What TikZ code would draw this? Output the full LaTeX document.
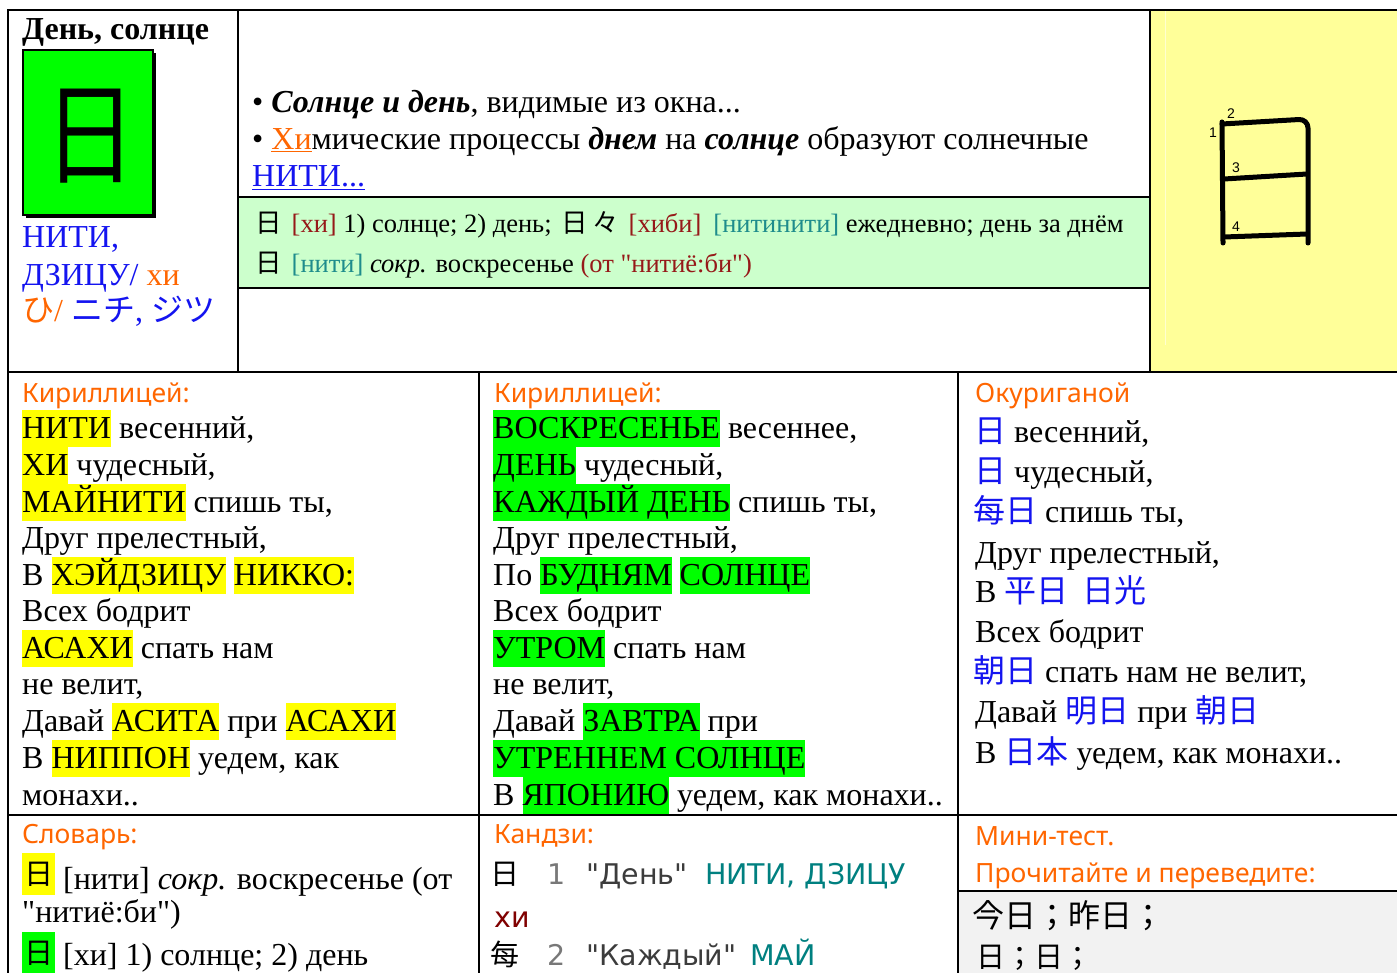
\documentclass[tikz,border=0pt]{standalone}
\usepackage{fontspec}
\setmainfont{Liberation Serif}[Ligatures=TeXOff]
\newfontfamily\jp{Noto Sans CJK JP}
\newfontfamily\hdf{Noto Sans}
\newfontfamily\tahf{DejaVu Sans}
\newfontfamily\arl{Liberation Sans}
\definecolor{orng}{RGB}{255,102,0}
\definecolor{blu}{RGB}{20,20,240}
\definecolor{hlY}{RGB}{255,255,0}
\definecolor{hlG}{RGB}{0,255,0}
\definecolor{bandc}{RGB}{204,255,204}
\definecolor{pale}{RGB}{255,255,153}
\definecolor{gry}{RGB}{242,242,242}
\definecolor{drd}{RGB}{150,25,25}
\definecolor{tl}{RGB}{30,140,140}
\definecolor{kteal}{RGB}{0,128,128}
\definecolor{kred}{RGB}{128,0,0}
\definecolor{kg1}{RGB}{120,120,120}
\definecolor{kg2}{RGB}{60,60,60}
\newcommand\HL[2]{{\setlength{\fboxsep}{0pt}\colorbox{#1}{\rule[-9pt]{0pt}{37pt}#2}}}
\begin{document}
\begin{tikzpicture}[x=1pt,y=-1pt,
  txt/.style={anchor=base west, inner sep=0pt, font=\fontsize{32}{37}\selectfont},
  bandtxt/.style={anchor=base west, inner sep=0pt, font=\fontsize{26.5}{30}\selectfont},
  head/.style={anchor=base west, inner sep=0pt, text=orng, font=\hdf\fontsize{26.5}{30}\selectfont},
  tah/.style={anchor=base west, inner sep=0pt, font=\tahf\fontsize{28.5}{32}\selectfont},
  gridline/.style={line width=2.5pt, line cap=rect},
  stroke/.style={line width=5pt, line cap=round, line join=round},
  num/.style={inner sep=0pt, font=\arl\fontsize{14}{14}\selectfont}]
\useasboundingbox (0,0) rectangle (1397,973);
% fills
\fill[white] (0,0) rectangle (1397,973);
\fill[pale] (1150,10) rectangle (1397,372);
\draw[line width=1pt, white!55!pale] (1165,10) -- (1165,345);
\fill[bandc] (238,197) rectangle (1150,288);
\fill[gry] (958,891) rectangle (1397,973);
% grid
\draw[gridline] (8,10) -- (1397,10);
\draw[gridline] (8,10) -- (8,973);
\draw[gridline] (238,10) -- (238,372);
\draw[gridline] (1150,10) -- (1150,372);
\draw[gridline] (238,197) -- (1150,197);
\draw[gridline] (238,288) -- (1150,288);
\draw[gridline] (8,372) -- (1397,372);
\draw[gridline] (479,372) -- (479,973);
\draw[gridline] (958,372) -- (958,973);
\draw[gridline] (8,815) -- (1397,815);
\draw[gridline] (958,891) -- (1397,891);

% top-left cell
\node[txt, font=\bfseries\fontsize{32}{37}\selectfont] (title) at (22,40) {День, солнце};
\fill[black] (26,53) rectangle (156,218);
\filldraw[fill=hlG, draw=black, line width=1.5pt] (23,50) rectangle (153,215);
\node[inner sep=0pt, xscale=0.82, font=\jp\fontsize{112}{112}\selectfont] (bigk) at (90,136) {日};
\node[txt, text=blu] (on1) at (22,248) {НИТИ,};
\node[txt] (on2) at (22,286) {\textcolor{blu}{ДЗИЦУ/} \textcolor{orng}{хи}};
\node[txt] (kana) at (22,322) {\textcolor{orng}{{\jp ひ}/} \textcolor{blu}{{\jp ニチ}, {\jp ジツ}}};

% top-middle
\node[txt] (m1) at (252,113) {• \textbf{\textit{Солнце и день}}, видимые из окна...};
\node[txt] (m2) at (252,150) {• \textcolor{orng}{\underline{Хи}}мические процессы \textbf{\textit{днем}} на \textbf{\textit{солнце}} образуют солнечные};
\node[txt] (m3) at (252,187) {\textcolor{blu}{\underline{НИТИ...}}};
\node[bandtxt] (b1) at (255,233) {{\jp 日}\hspace{10pt}\textcolor{drd}{[хи]} 1) солнце; 2) день;\hspace{10pt}{\jp 日}\hspace{4pt}{\jp 々}\hspace{10pt}\textcolor{drd}{[хиби]}\hspace{12pt}\textcolor{tl}{[нитинити]} ежедневно; день за днём};
\node[bandtxt] (b2) at (255,273) {{\jp 日}\hspace{10pt}\textcolor{tl}{[нити]} \textit{сокр.} воскресенье \textcolor{drd}{(от "нитиё:би")}};

% top-right stroke order
\draw[stroke] (1222,122) -- (1223,243);
\draw[stroke, rounded corners=9pt] (1222,124) -- (1308,119) -- (1308,243);
\draw[stroke] (1224,179) -- (1307,174);
\draw[stroke] (1224,237) -- (1307,234);
\node[num] (n1) at (1213,133) {1};
\node[num] (n2) at (1231,114) {2};
\node[num] (n3) at (1236,168) {3};
\node[num] (n4) at (1236,227) {4};

% row 2, column 1
\node[head] (h1) at (22,402) {Кириллицей:};
\node[txt] (a1) at (22,438) {\HL{hlY}{НИТИ} весенний,};
\node[txt] (a2) at (22,475) {\HL{hlY}{ХИ} чудесный,};
\node[txt] (a3) at (22,512) {\HL{hlY}{МАЙНИТИ} спишь ты,};
\node[txt] (a4) at (22,548) {Друг прелестный,};
\node[txt] (a5) at (22,585) {В \HL{hlY}{ХЭЙДЗИЦУ} \HL{hlY}{НИККО:}};
\node[txt] (a6) at (22,621) {Всех бодрит};
\node[txt] (a7) at (22,658) {\HL{hlY}{АСАХИ} спать нам};
\node[txt] (a8) at (22,694) {не велит,};
\node[txt] (a9) at (22,731) {Давай \HL{hlY}{АСИТА} при \HL{hlY}{АСАХИ}};
\node[txt] (a10) at (22,768) {В \HL{hlY}{НИППОН} уедем, как};
\node[txt] (a11) at (22,805) {монахи..};

% row 2, column 2
\node[head] (h2) at (494,402) {Кириллицей:};
\node[txt] (c1) at (493,438) {\HL{hlG}{ВОСКРЕСЕНЬЕ} весеннее,};
\node[txt] (c2) at (493,475) {\HL{hlG}{ДЕНЬ} чудесный,};
\node[txt] (c3) at (493,512) {\HL{hlG}{КАЖДЫЙ ДЕНЬ} спишь ты,};
\node[txt] (c4) at (493,548) {Друг прелестный,};
\node[txt] (c5) at (493,585) {По \HL{hlG}{БУДНЯМ} \HL{hlG}{СОЛНЦЕ}};
\node[txt] (c6) at (493,621) {Всех бодрит};
\node[txt] (c7) at (493,658) {\HL{hlG}{УТРОМ} спать нам};
\node[txt] (c8) at (493,694) {не велит,};
\node[txt] (c9) at (493,731) {Давай \HL{hlG}{ЗАВТРА} при};
\node[txt] (c10) at (493,768) {\HL{hlG}{УТРЕННЕМ СОЛНЦЕ}};
\node[txt] (c11) at (493,805) {В \HL{hlG}{ЯПОНИЮ} уедем, как монахи..};

% row 2, column 3
\node[head] (h3) at (975,402) {Окуриганой};
\node[txt] (d1) at (974,442) {\textcolor{blu}{\jp 日} весенний,};
\node[txt] (d2) at (974,482) {\textcolor{blu}{\jp 日} чудесный,};
\node[txt] (d3) at (973,522) {\textcolor{blu}{\jp 每日} спишь ты,};
\node[txt] (d4) at (975,563) {Друг прелестный,};
\node[txt] (d5) at (975,602) {В \textcolor{blu}{{\jp 平日}\hspace{14pt}{\jp 日光}}};
\node[txt] (d6) at (975,642) {Всех бодрит};
\node[txt] (d7) at (973,682) {\textcolor{blu}{\jp 朝日} спать нам не велит,};
\node[txt] (d8) at (975,722) {Давай \textcolor{blu}{\jp 明日} при \textcolor{blu}{\jp 朝日}};
\node[txt] (d9) at (975,763) {В \textcolor{blu}{\jp 日本} уедем, как монахи..};

% row 3, column 1
\node[head] (h4) at (22,843) {Словарь:};
\fill[hlY] (22,853) rectangle (55,895);
\node[inner sep=0pt, font=\jp\fontsize{29}{29}\selectfont] (s1k) at (38.5,874) {日};
\node[txt] (s1) at (63,889) {[нити] \textit{сокр.} воскресенье (от};
\node[txt] (s2) at (22,922) {"нитиё:би")};
\fill[hlG] (22,932) rectangle (55,975);
\node[inner sep=0pt, font=\jp\fontsize{29}{29}\selectfont] (s2k) at (38.5,953) {日};
\node[txt] (s3) at (63,965) {[хи] 1) солнце; 2) день};

% row 3, column 2
\node[head] (h5) at (494,843) {Кандзи:};
\node[anchor=base west, inner sep=0pt, font=\jp\fontsize{29}{29}\selectfont] (k1) at (490,884) {日};
\node[tah, text=kg1] (k1n) at (547,884) {1};
\node[tah, text=kg2] (k1m) at (586,884) {"День"};
\node[tah, text=kteal] (k1r) at (705,884) {НИТИ, ДЗИЦУ};
\node[tah, text=kred] (k1x) at (494,927) {хи};
\node[anchor=base west, inner sep=0pt, font=\jp\fontsize{29}{29}\selectfont] (k2) at (490,965) {每};
\node[tah, text=kg1] (k2n) at (547,965) {2};
\node[tah, text=kg2] (k2m) at (586,965) {"Каждый"};
\node[tah, text=kteal] (k2r) at (750,965) {МАЙ};

% row 3, column 3
\node[head] (h6) at (975,845) {Мини-тест.};
\node[head] (h7) at (975,882) {Прочитайте и переведите:};
\node[anchor=base west, inner sep=0pt, font=\jp\fontsize{32}{32}\selectfont] (t1) at (972,927) {今日；昨日；};
\node[anchor=base west, inner sep=0pt, font=\jp\fontsize{29}{29}\selectfont] (t2) at (976,967) {日；日；};
\end{tikzpicture}
\end{document}
